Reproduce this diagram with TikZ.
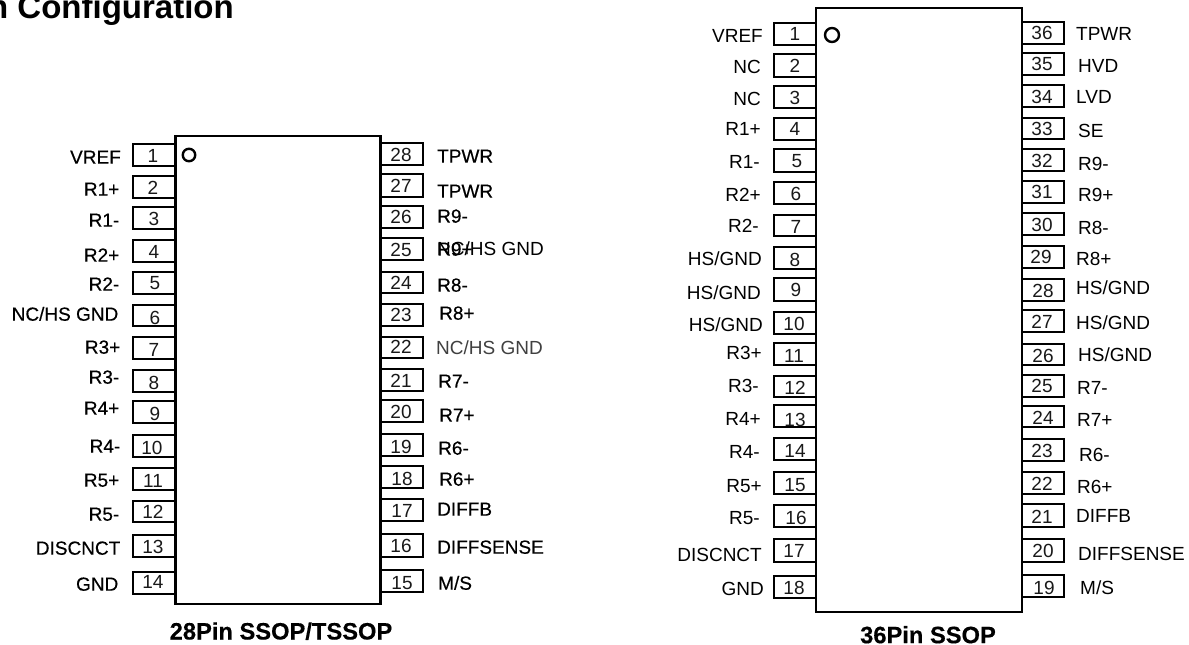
\documentclass[tikz,border=0pt]{standalone}
\usepackage{fontspec}
\setmainfont{Liberation Sans}
\newfontfamily\semibold[FakeBold=0.35]{Liberation Sans}
\newcommand{\sz}{\fontsize{19}{21}\selectfont}
\tikzset{
  chipbox/.style={draw=black,line width=2.2pt,fill=white,rectangle,inner sep=0pt,outer sep=0pt},
  pinbox/.style={draw=black,line width=2pt,fill=white,rectangle,inner sep=0pt,outer sep=0pt},
  pinnum/.style={inner sep=0pt,anchor=base,font=\sz,text=black!90},
  leftlab/.style={inner sep=0pt,anchor=base east,font=\sz},
  rightlab/.style={inner sep=0pt,anchor=base west,font=\sz},
  dot/.style={circle,draw=black,line width=2.4pt,fill=white,inner sep=0pt,minimum size=12.5pt},
  headline/.style={inner sep=0pt,font=\bfseries\fontsize{23.7}{25}\selectfont,anchor=base},
  maintitle/.style={inner sep=0pt,font=\bfseries\fontsize{33}{35}\selectfont,anchor=base east}
}
\begin{document}
\begin{tikzpicture}[x=1pt,y=-1pt]
\useasboundingbox (0,0) rectangle (1189,645);
\fill[white] (0,0) rectangle (1189,645);
\node[maintitle] (title) at (234,18) {n Configuration};
% 28 pin chip
\node[chipbox,minimum width=205pt,minimum height=468pt] (chipA) at (278,370) {};
\node[dot] (dotA) at (189,155) {};
\foreach \n/\a/\b/\nx/\ny/\lx/\ly/\lab in {
1/144/166/153/156/121/157/VREF,
2/176/198/153/188/119.5/189/R1+,
3/207/229/154/219/119.5/220/R1-,
4/240/262/154/252/119.5/255/R2+,
5/272/294/155/283/119.5/284/R2-,
6/305/326/155/318/118.5/314/{NC/HS GND},
7/337/359/154/350/120.5/347/R3+,
8/370/392/154/383/119.5/377/R3-,
9/401/423/155/414/119.5/408/R4+,
10/435/457/152/448/120.5/446/R4-,
11/468/490/153/481/119.5/480/R5+,
12/501/522/153/512/119.5/514/R5-,
13/535/557/153/547/120.5/548/DISCNCT,
14/572/594/153/582/118.5/584/GND}{
  \node[pinbox,minimum width=42pt,minimum height=(\b-\a)*1pt] (a\n) at (154,{(\a+\b)/2}) {};
  \node[pinnum] (an\n) at (\nx,\ny+6.7) {\n};
  \node[leftlab] (al\n) at (\lx,\ly+6.7) {\semibold\lab};
}
\foreach \n/\a/\b/\nx/\ny/\lx/\ly/\lab in {
28/143/165/401/155/437/156/TPWR,
27/174/197/401/186/437/191/TPWR,
26/206/228/401/217/437/216/R9-,
25/238/260/401/250/437/249/R9+,
24/272/293/401/283/437/285/R8-,
23/304/326/401/315/439/313/R8+,
21/369/391/401/381/438/381/R7-,
20/400/422/401/412/439/415/R7+,
19/434/456/401/447/438/448/R6-,
18/466/488/402/479/439/479/R6+,
17/499/521/402/511/437/509/DIFFB,
16/534/557/401/546/437/547/DIFFSENSE,
15/570/592/402/583/438/583/{M/S}}{
  \node[pinbox,minimum width=42pt,minimum height=(\b-\a)*1pt] (a\n) at (402,{(\a+\b)/2}) {};
  \node[pinnum] (an\n) at (\nx,\ny+6.7) {\n};
  \node[rightlab] (al\n) at (\lx,\ly+6.7) {\semibold\lab};
}
\node[pinbox,minimum width=42pt,minimum height=21pt] (a22) at (402,347.5) {};
\node[pinnum] (an22) at (401,353.7) {22};
\node[rightlab,text=black!75] (al22) at (436,354.7) {NC/HS GND};
\node[rightlab] (al25b) at (437,255.7) {NC/HS GND};
\node[headline] (capA) at (281,639.5) {\semibold 28Pin SSOP/TSSOP};
% 36 pin chip
\node[chipbox,minimum width=206pt,minimum height=604.5pt] (chipB) at (919,310) {};
\node[dot,minimum size=14pt] (dotB) at (832,35) {};
\foreach \n/\a/\b/\nx/\ny/\lx/\ly/\lab in {
1/23/45/795/34/763/36/VREF,
2/54/77/795/66/761/67/NC,
3/86/108/795/98/761/99/NC,
4/118/140/795/129/761/129/R1+,
5/149/172/797/161/760/162/R1-,
6/182/204/796/194/761/195/R2+,
7/215/236/796/227/759/226/R2-,
8/247/269/795/260/762/259/{HS/GND},
9/278/301/796/290/761/293/{HS/GND},
10/312/334/794/324/763/325/{HS/GND},
11/343/365/794/356/762/353/R3+,
12/376/397/795/388/759/386/R3-,
13/405/427/795/420/761/419/R4+,
14/438/460/795/451/760/452/R4-,
15/472/494/795/485/762/486/R5+,
16/505/527/796/518/760/518/R5-,
17/539/562/794/551/762/555/DISCNCT,
18/576/598/794/588/764/589/GND}{
  \node[pinbox,minimum width=42pt,minimum height=(\b-\a)*1pt] (b\n) at (795,{(\a+\b)/2}) {};
  \node[pinnum] (bn\n) at (\nx,\ny+6.7) {\n};
  \node[leftlab] (bl\n) at (\lx,\ly+6.7) {\lab};
}
\foreach \n/\a/\b/\nx/\ny/\lx/\ly/\lab in {
36/22/44/1042/33/1076/34/TPWR,
35/53/75/1042/64/1078/66/HVD,
34/85/107/1042/97/1076/97/LVD,
33/118/139/1042/129/1078/131/SE,
32/149/171/1042/161/1078/164/R9-,
31/181/203/1042/192/1078/195/R9+,
30/213/235/1042/225/1078/228/R8-,
29/246/268/1041/257/1076/259/R8+,
28/279/301/1043/291/1076/288/{HS/GND},
27/310/332/1042/322/1076/323/{HS/GND},
26/344/365/1043/356/1078/355/{HS/GND},
25/375/397/1042/386/1077/388/R7-,
24/406/427/1043/418/1077/420/R7+,
23/439/461/1042/451/1079/455/R6-,
22/472/494/1042/484/1077/487/R6+,
21/504/527/1042/517/1076/516/DIFFB,
20/539/562/1043/551/1078/554/DIFFSENSE,
19/575/597/1044/588/1080/588/{M/S}}{
  \node[pinbox,minimum width=42pt,minimum height=(\b-\a)*1pt] (b\n) at (1043,{(\a+\b)/2}) {};
  \node[pinnum] (bn\n) at (\nx,\ny+6.7) {\n};
  \node[rightlab] (bl\n) at (\lx,\ly+6.7) {\lab};
}
\node[headline] (capB) at (928,643.2) {\semibold 36Pin SSOP};
\end{tikzpicture}
\end{document}
